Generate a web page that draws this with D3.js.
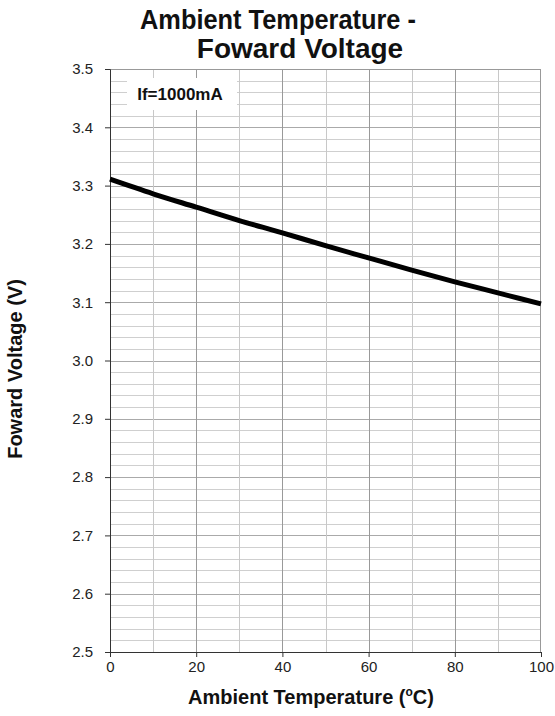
<!DOCTYPE html>
<html lang="en">
<head>
<meta charset="UTF-8" />
<title>Ambient Temperature - Foward Voltage</title>
<script src="https://d3js.org/d3.v7.min.js"></script>
<style>
  body { margin: 0; background: #fff; }
  svg { font-family: "Liberation Sans", Arial, sans-serif; }
  .tick text { font-size: 15px; fill: #222; }
  .domain, .tick line { stroke: #333; }
</style>
</head>
<body>
<svg id="chart" width="555" height="716"></svg>
<script>
// data
var temps = [0, 10, 20, 30, 40, 50, 60, 70, 80, 90, 100]
var volts = [3.311, 3.286, 3.263, 3.240, 3.219, 3.197, 3.176, 3.155, 3.135, 3.116, 3.097]
var xTicks = [0, 20, 40, 60, 80, 100]
var yTicks = [2.5, 2.6, 2.7, 2.8, 2.9, 3.0, 3.1, 3.2, 3.3, 3.4, 3.5]

var svg = d3.select('#chart')
var pLeft = 110, pRight = 541, pTop = 69, pBottom = 652

var x = d3.scaleLinear().domain([0, 100]).range([pLeft, pRight])
var y = d3.scaleLinear().domain([2.5, 3.5]).range([pBottom, pTop])

// grid
var minorY = d3.range(2.52, 3.5, 0.02).map(function (d) { return +d.toFixed(2) })
svg.append('g').selectAll('line').data(minorY).enter().append('line')
  .attr('x1', pLeft).attr('x2', pRight)
  .attr('y1', function (d) { return Math.round(y(d)) + 0.5 })
  .attr('y2', function (d) { return Math.round(y(d)) + 0.5 })
  .attr('stroke', function (d) { return Math.abs(d * 10 - Math.round(d * 10)) < 1e-6 ? '#aaa' : '#cfcfcf' })

var vx = d3.range(10, 100, 10)
svg.append('g').selectAll('line').data(vx).enter().append('line')
  .attr('y1', pTop).attr('y2', pBottom)
  .attr('x1', function (d) { return Math.round(x(d)) + 0.5 })
  .attr('x2', function (d) { return Math.round(x(d)) + 0.5 })
  .attr('stroke', function (d) { return d % 20 === 0 ? '#999' : '#c8c8c8' })

// top and right border
svg.append('line').attr('x1', pLeft).attr('x2', pRight)
  .attr('y1', pTop + 0.5).attr('y2', pTop + 0.5).attr('stroke', '#999')
svg.append('line').attr('x1', pRight - 0.5).attr('x2', pRight - 0.5)
  .attr('y1', pTop).attr('y2', pBottom).attr('stroke', '#999')

// label box
svg.append('rect').attr('x', 127).attr('y', 78).attr('width', 110).attr('height', 32)
  .attr('fill', '#fff')
svg.append('text').attr('x', 180).attr('y', 100).attr('text-anchor', 'middle')
  .attr('font-size', 17).attr('font-weight', 'bold').attr('fill', '#111')
  .text('If=1000mA')

// axes
svg.append('g').attr('transform', 'translate(0,' + pBottom + ')')
  .call(d3.axisBottom(x).tickValues(xTicks).tickSize(5).tickPadding(4).tickFormat(d3.format('d')))
svg.append('g').attr('transform', 'translate(' + pLeft + ',0)')
  .call(d3.axisLeft(y).tickValues(yTicks).tickSize(5).tickPadding(12).tickFormat(d3.format('.1f')))

// curve
var line = d3.line()
  .x(function (d, i) { return x(temps[i]) })
  .y(function (d) { return y(d) })
  .curve(d3.curveMonotoneX)
svg.append('path').datum(volts).attr('d', line)
  .attr('fill', 'none').attr('stroke', '#000').attr('stroke-width', 5)

// titles
svg.append('text').attr('x', 140).attr('y', 29)
  .attr('font-size', 28).attr('font-weight', 'bold').attr('fill', '#111')
  .attr('textLength', 276).attr('lengthAdjust', 'spacingAndGlyphs')
  .text('Ambient Temperature -')
svg.append('text').attr('x', 300).attr('y', 58).attr('text-anchor', 'middle')
  .attr('font-size', 28).attr('font-weight', 'bold').attr('fill', '#111')
  .text('Foward Voltage')

var xl = svg.append('text').attr('x', 311).attr('y', 704).attr('text-anchor', 'middle')
  .attr('font-size', 20).attr('font-weight', 'bold').attr('fill', '#111')
xl.append('tspan').text('Ambient Temperature (')
xl.append('tspan').attr('font-size', 12).attr('dy', -8).text('o')
xl.append('tspan').attr('dy', 8).text('C)')

svg.append('text').attr('transform', 'translate(22,369) rotate(-90)')
  .attr('text-anchor', 'middle').attr('font-size', 20).attr('font-weight', 'bold').attr('fill', '#111')
  .text('Foward Voltage (V)')
</script>
</body>
</html>
